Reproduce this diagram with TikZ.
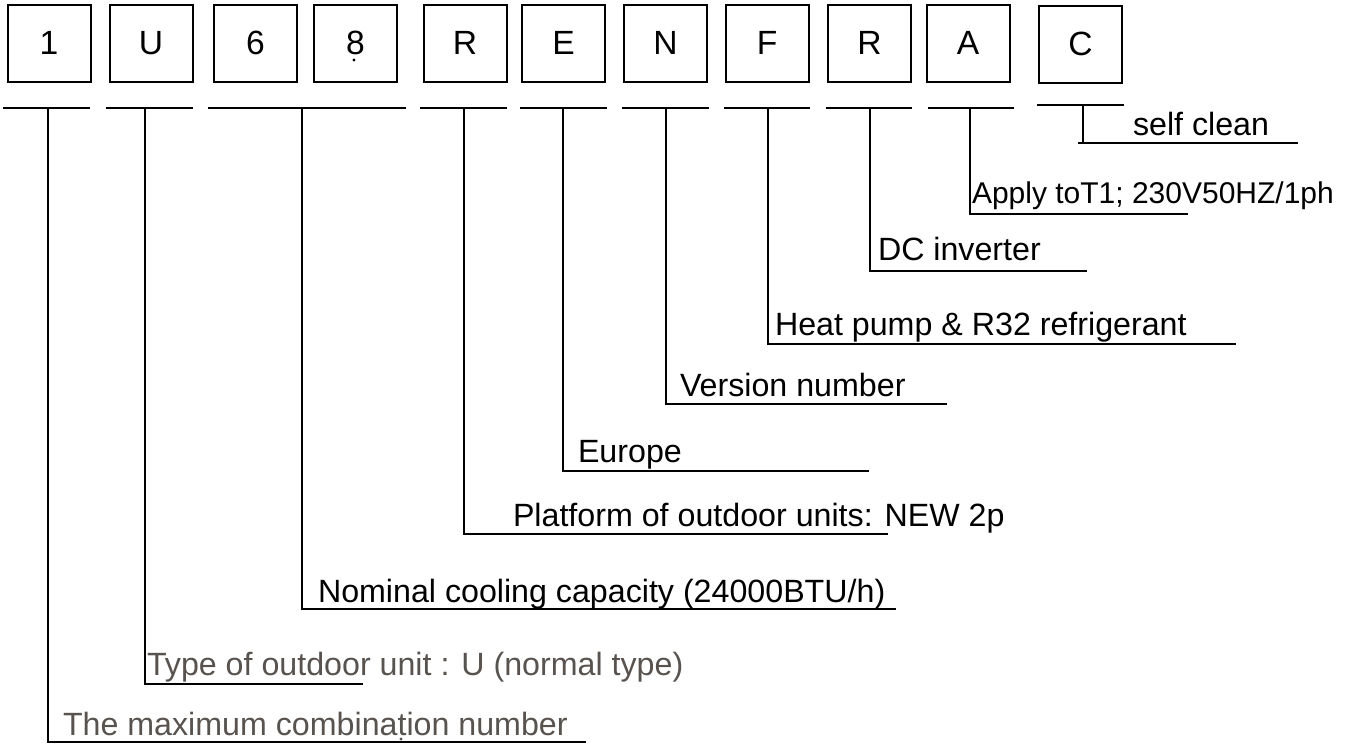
\documentclass[tikz,border=0pt]{standalone}
\usepackage{fontspec}
\setmainfont{Liberation Sans}
\definecolor{labelgray}{RGB}{89,83,80}
\begin{document}
\begin{tikzpicture}[x=0.5pt,y=-0.5pt,
  every node/.style={font=\fontsize{16.1pt}{18pt}\selectfont, inner sep=0pt, outer sep=0pt},
  digitbox/.style={draw, line width=1pt, minimum width=41.5pt, minimum height=38.5pt, font=\fontsize{16.8pt}{18pt}\selectfont},
  lbl/.style={anchor=base west},
  graylbl/.style={anchor=base west, text=labelgray},
  smalllbl/.style={anchor=base west, font=\fontsize{15pt}{18pt}\selectfont},
  ln/.style={line width=1pt, line cap=rect}]
\useasboundingbox (0,0) rectangle (1353,744);

% code boxes
\node[digitbox] (b1)  at (49,43)    {1};
\node[digitbox] (bU)  at (151,43)   {U};
\node[digitbox] (b6)  at (255.5,43) {6};
\node[digitbox] (b8)  at (355.5,43) {8};
\node[digitbox] (bR)  at (465,43)   {R};
\node[digitbox] (bE)  at (563.5,43) {E};
\node[digitbox] (bN)  at (665.5,43) {N};
\node[digitbox] (bF)  at (767,43)   {F};
\node[digitbox] (bR2) at (869.5,43) {R};
\node[digitbox] (bA)  at (968,43)   {A};
\node[digitbox] (bC)  at (1080.5,44) {C};
\fill (354,60) circle[radius=0.8pt];

% underlines
\coordinate (u1a) at (4,108);    \coordinate (u1b) at (89,108);
\coordinate (uUa) at (107,108);  \coordinate (uUb) at (192,108);
\coordinate (u6a) at (209,108);  \coordinate (u6b) at (405,108);
\coordinate (uRa) at (421,108);  \coordinate (uRb) at (506,108);
\coordinate (uEa) at (521,108);  \coordinate (uEb) at (606,108);
\coordinate (uNa) at (623,108);  \coordinate (uNb) at (708,108);
\coordinate (uFa) at (725,108);  \coordinate (uFb) at (809,108);
\coordinate (uR2a) at (827,108); \coordinate (uR2b) at (911,108);
\coordinate (uAa) at (929,108);  \coordinate (uAb) at (1013,108);
\coordinate (uCa) at (1038,105); \coordinate (uCb) at (1123,105);
\foreach \a/\b in {u1a/u1b,uUa/uUb,u6a/u6b,uRa/uRb,uEa/uEb,uNa/uNb,uFa/uFb,uR2a/uR2b,uAa/uAb,uCa/uCb}
  \draw[ln] (\a) -- (\b);

% drop points on underlines
\coordinate (s1) at (48,108);
\coordinate (sU) at (145,108);
\coordinate (s6) at (302,108);
\coordinate (sR) at (464,108);
\coordinate (sE) at (563,108);
\coordinate (sN) at (666,108);
\coordinate (sF) at (768,108);
\coordinate (sR2) at (870,108);
\coordinate (sA) at (970,108);
\coordinate (sC) at (1083,105);

% label line corners and ends
\coordinate (c1) at (48,742);    \coordinate (e1) at (585,742);
\coordinate (cU) at (145,684);   \coordinate (eU) at (362,684);
\coordinate (c6) at (302,609);   \coordinate (e6) at (895,609);
\coordinate (cR) at (464,534);   \coordinate (eR) at (887,534);
\coordinate (cE) at (563,471);   \coordinate (eE) at (868,471);
\coordinate (cN) at (666,404);   \coordinate (eN) at (946,404);
\coordinate (cF) at (768,344);   \coordinate (eF) at (1235,344);
\coordinate (cR2) at (870,271);  \coordinate (eR2) at (1086,271);
\coordinate (cA) at (970,214);   \coordinate (eA) at (1187,214);
\coordinate (cC) at (1083,143);  \coordinate (eC) at (1297,143);
\coordinate (cC0) at (1079,143);

\draw[ln] (s1) -- (c1) -- (e1);
\draw[ln] (sU) -- (cU) -- (eU);
\draw[ln] (s6) -- (c6) -- (e6);
\draw[ln] (sR) -- (cR) -- (eR);
\draw[ln] (sE) -- (cE) -- (eE);
\draw[ln] (sN) -- (cN) -- (eN);
\draw[ln] (sF) -- (cF) -- (eF);
\draw[ln] (sR2) -- (cR2) -- (eR2);
\draw[ln] (sA) -- (cA) -- (eA);
\draw[ln] (sC) -- (cC);
\draw[ln] (cC0) -- (eC);

% labels
\node[lbl] (tC)  at (1133,135) {self clean};
\node[smalllbl] (tA) at (972,203) {Apply toT1; 230V50HZ/1ph};
\node[lbl] (tR2) at (878,260) {DC inverter};
\node[lbl] (tF)  at (775,335) {Heat pump \& R32 refrigerant};
\node[lbl] (tN)  at (680,396) {Version number};
\node[lbl] (tE)  at (578,462) {Europe};
\node[lbl] (tR)  at (513,526) {Platform of outdoor units: NEW 2p};
\node[lbl] (t6)  at (318,602) {Nominal cooling capacity (24000BTU/h)};
\node[graylbl] (tU) at (147,675) {Type of outdoor unit : U (normal type)};
\node[graylbl] (t1) at (63,735) {The maximum combination number};
\fill[labelgray] (401,739) circle[radius=0.8pt];
\end{tikzpicture}
\end{document}
